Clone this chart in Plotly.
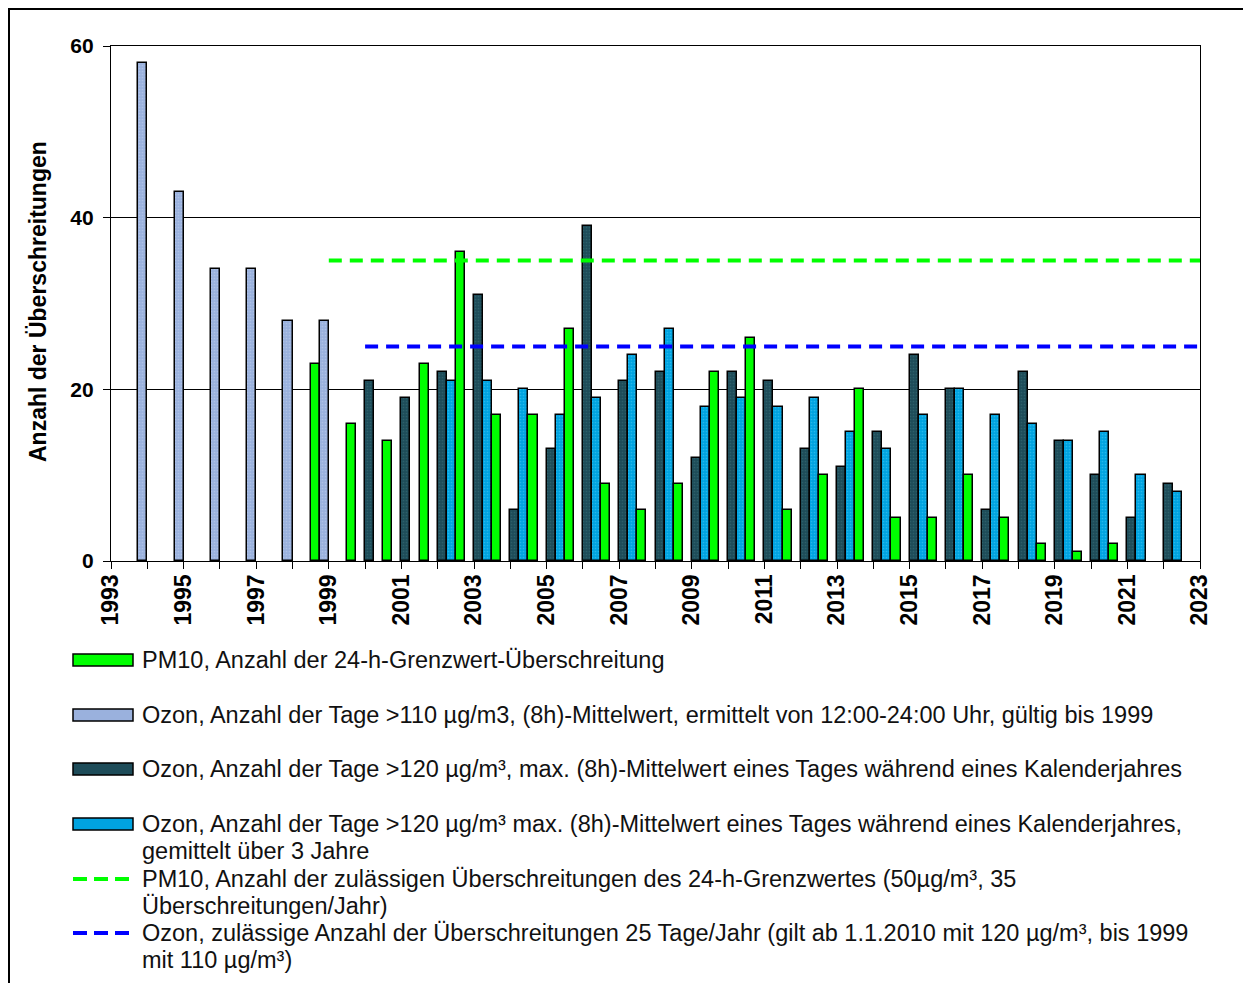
import plotly.graph_objects as go

# ---------------- data ----------------
years = list(range(1993, 2023))  # interval start year on the axis

ozon110 = [58, 43, 34, 34, 28, 28] + [None] * 24
pm10 = [None, None, None, None, None, 23, 16, 14, 23, 36, 17, 17, 27, 9, 6, 9,
        22, 26, 6, 10, 20, 5, 5, 10, 5, 2, 1, 2, None, None]
ozon120 = [None] * 7 + [21, 19, 22, 31, 6, 13, 39, 21, 22, 12, 22, 21, 13, 11,
                        15, 24, 20, 6, 22, 14, 10, 5, 9]
ozon120_3y = [None] * 9 + [21, 21, 20, 17, 19, 24, 27, 18, 19, 18, 19, 15, 13,
                           17, 20, 17, 16, 14, 15, 10, 8]

pm10_limit = 35
pm10_limit_years = [1999, 2023]
ozon_limit = 25
ozon_limit_years = [2000, 2023]

x_ticks = list(range(1993, 2024, 2))
y_ticks = [0, 20, 40, 60]

legend_texts = [
    ["PM10, Anzahl der 24-h-Grenzwert-Überschreitung"],
    ["Ozon, Anzahl der Tage >110 µg/m3, (8h)-Mittelwert, ermittelt von 12:00-24:00 Uhr, gültig bis 1999"],
    ["Ozon, Anzahl der Tage >120 µg/m³, max. (8h)-Mittelwert eines Tages während eines Kalenderjahres"],
    ["Ozon, Anzahl der Tage >120 µg/m³ max. (8h)-Mittelwert eines Tages während eines Kalenderjahres,",
     "gemittelt über 3 Jahre"],
    ["PM10, Anzahl der zulässigen Überschreitungen des 24-h-Grenzwertes (50µg/m³, 35",
     "Überschreitungen/Jahr)"],
    ["Ozon, zulässige Anzahl der Überschreitungen 25 Tage/Jahr (gilt ab 1.1.2010 mit 120 µg/m³, bis 1999",
     "mit 110 µg/m³)"],
]

# ---------------- styles ----------------
C_GREEN = "#00FF00"
C_LIGHT = "#9AB1DD"
C_DARK = "#1E4C59"
C_BLUE = "#00A3E0"
C_LINE_GREEN = "#00FF00"
C_LINE_BLUE = "#0000FF"
FONT = "Liberation Sans, Arial, sans-serif"

OFF = 8  # page body margin
W, H = 1251 - OFF, 983 - OFF
# plot area in screen pixels
SL, SR, ST, SB = 111, 1200, 46, 561
L, R, T, B = SL - OFF, SR - OFF, ST - OFF, SB - OFF


def px(x):
    return (x - SL) / (SR - SL)


def py(y):
    return (SB - y) / (SB - ST)


xc = [yr + 0.5 for yr in years]
line_black = dict(color="black", width=1.5)

fig = go.Figure()
fig.add_trace(go.Bar(x=xc, y=ozon120, marker=dict(color=C_DARK, line=line_black,
                     pattern=dict(shape=".", fgcolor="#3C7479", bgcolor=C_DARK, size=3, solidity=0.25)),
                     showlegend=False))
fig.add_trace(go.Bar(x=xc, y=ozon120_3y, marker=dict(color=C_BLUE, line=line_black,
                     pattern=dict(shape=".", fgcolor="#4CCBF5", bgcolor=C_BLUE, size=3, solidity=0.25)),
                     showlegend=False))
fig.add_trace(go.Bar(x=xc, y=pm10, marker=dict(color=C_GREEN, line=line_black), showlegend=False))
fig.add_trace(go.Bar(x=xc, y=ozon110, marker=dict(color=C_LIGHT, line=line_black,
                     pattern=dict(shape=".", fgcolor="#C4D4F0", bgcolor=C_LIGHT, size=3, solidity=0.25)),
                     showlegend=False))

fig.add_trace(go.Scatter(x=pm10_limit_years, y=[pm10_limit] * 2, mode="lines",
                         line=dict(color=C_LINE_GREEN, width=4, dash="13px,8px"), showlegend=False))
fig.add_trace(go.Scatter(x=ozon_limit_years, y=[ozon_limit] * 2, mode="lines",
                         line=dict(color=C_LINE_BLUE, width=4, dash="13px,8px"), showlegend=False))

fig.update_layout(
    width=W, height=H,
    margin=dict(l=L, r=W - R, t=T, b=H - B, autoexpand=False),
    paper_bgcolor="white", plot_bgcolor="white",
    barmode="group", bargap=0, bargroupgap=0,
    font=dict(family=FONT, color="black"),
    showlegend=False,
)

fig.update_xaxes(
    range=[1993, 2023], tickmode="array", tickvals=x_ticks, ticktext=[str(v) for v in x_ticks],
    tickangle=-90, ticks="outside", ticklen=7, tickwidth=1, tickcolor="black",
    tickfont=dict(size=23, family=FONT, weight="bold"),
    minor=dict(dtick=1, tick0=1993, ticks="outside", ticklen=7, tickwidth=1, tickcolor="black", showgrid=False),
    showline=True, linecolor="black", linewidth=1.3, mirror=True, showgrid=False, zeroline=False,
    automargin=False, ticklabelstandoff=-4,
)
fig.update_yaxes(
    range=[0, 60], tickmode="array", tickvals=y_ticks, ticks="outside", ticklen=7, tickcolor="black",
    tickfont=dict(size=21, family=FONT, weight="bold"),
    showline=True, linecolor="black", linewidth=1.3, mirror=True,
    showgrid=True, gridcolor="black", gridwidth=1, zeroline=False,
    automargin=False, ticklabelstandoff=5,
)

annotations = []
shapes = []

# y axis title
annotations.append(dict(text="<b>Anzahl der Überschreitungen</b>", x=px(38), y=py(302), xref="paper", yref="paper",
                        textangle=-90, showarrow=False, xanchor="center", yanchor="middle",
                        font=dict(size=23, family=FONT, color="black")))

# outer chart border
shapes.append(dict(type="rect", xref="paper", yref="paper", x0=px(9), x1=px(1270), y0=py(1000), y1=py(9),
                   line=dict(color="black", width=2), fillcolor="rgba(0,0,0,0)", layer="above"))

# custom legend
row_y = [660, 715, 769, 824, 879, 933]
swatch_fill = [C_GREEN, C_LIGHT, C_DARK, C_BLUE]
for i, lines in enumerate(legend_texts):
    yc = row_y[i]
    if i < 4:
        shapes.append(dict(type="rect", xref="paper", yref="paper", x0=px(73), x1=px(133),
                           y0=py(yc + 6), y1=py(yc - 6), fillcolor=swatch_fill[i],
                           line=dict(color="black", width=1.5), layer="above"))
    else:
        col = C_LINE_GREEN if i == 4 else C_LINE_BLUE
        shapes.append(dict(type="line", xref="paper", yref="paper", x0=px(73), x1=px(131),
                           y0=py(yc), y1=py(yc), line=dict(color=col, width=4, dash="14px,7px"), layer="above"))
    for j, t in enumerate(lines):
        annotations.append(dict(text=t, x=px(140), y=py(yc + 27 * j), xref="paper", yref="paper",
                                showarrow=False, xanchor="left", yanchor="middle",
                                font=dict(size=23.5, family=FONT, color="#111111")))

fig.update_layout(annotations=annotations, shapes=shapes)
fig.write_html("out.html")
